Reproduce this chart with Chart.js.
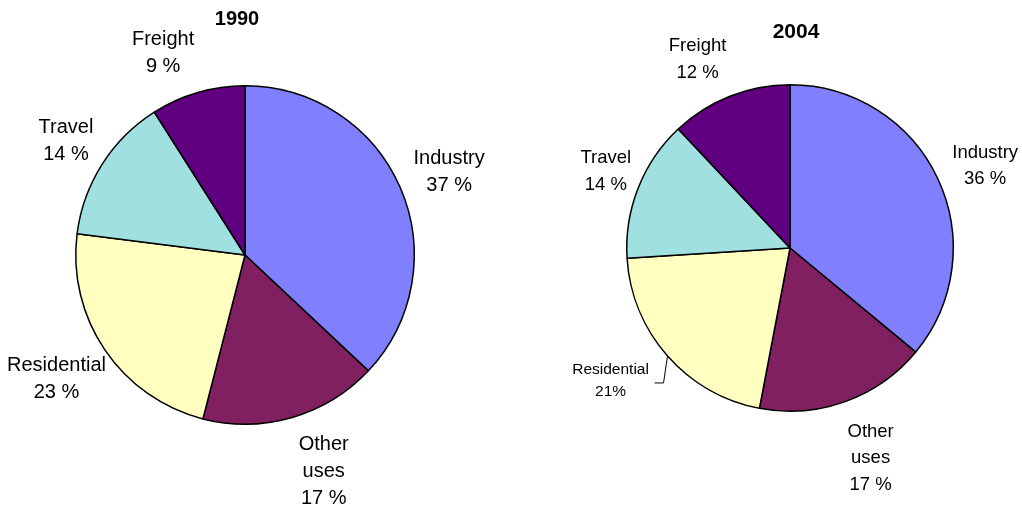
<!DOCTYPE html>
<html>
<head>
<meta charset="utf-8">
<script src="https://cdn.jsdelivr.net/npm/chart.js@4.4.1/dist/chart.umd.min.js"></script>
<style>
  body { margin: 0; background: #fff; }
  .wrap { position: relative; width: 1022px; height: 508px; }
  canvas { position: absolute; top: 0; }
  #pie1990 { left: 0; }
  #pie2004 { left: 511px; }
</style>
</head>
<body>
<div class="wrap">
  <canvas id="pie1990" width="511" height="508"></canvas>
  <canvas id="pie2004" width="511" height="508"></canvas>
</div>
<script>
const sectors = ['Industry', 'Other\nuses', 'Residential', 'Travel', 'Freight']
const share1990 = [37, 17, 23, 14, 9]
const share2004 = [36, 17, 21, 14, 12]
const colors = ['#8080ff', '#802060', '#ffffc0', '#a0e0e0', '#600080']

const FONT = "'Liberation Sans', Arial, sans-serif"

// writes sector name + share next to each slice, at the slice's mid angle
const sliceLabels = {
  id: 'sliceLabels',
  afterDraw(chart, args, opts) {
    const ctx = chart.ctx;
    const meta = chart.getDatasetMeta(0);
    const values = chart.data.datasets[0].data;
    ctx.save();
    ctx.fillStyle = '#000';
    ctx.textAlign = 'center';
    ctx.textBaseline = 'middle';

    // title above the pie
    const a0 = meta.data[0];
    ctx.font = `bold ${opts.titleSize}px ${FONT}`;
    ctx.fillText(opts.title, a0.x + opts.titleDx, a0.y - a0.outerRadius - opts.titleDy);

    meta.data.forEach((arc, i) => {
      const mid = (arc.startAngle + arc.endAngle) / 2;
      if (opts.leader && opts.leader.index === i) {
        // small label pulled off the slice with a leader line
        const ex = arc.x + Math.cos(mid) * arc.outerRadius;
        const ey = arc.y + Math.sin(mid) * arc.outerRadius;
        const bx = ex - 4, by = ey + 27;
        ctx.strokeStyle = '#000';
        ctx.lineWidth = 1;
        ctx.beginPath();
        ctx.moveTo(ex, ey);
        ctx.lineTo(bx, by);
        ctx.lineTo(bx - 9, by);
        ctx.stroke();
        ctx.font = `${opts.leader.size}px ${FONT}`;
        const lines = chart.data.labels[i].split('\n').concat([values[i] + '%']);
        const cx = bx - 53, cy = by - 2;
        lines.forEach((t, k) => {
          ctx.fillText(t, cx, cy + (k - (lines.length - 1) / 2) * opts.leader.lineH);
        });
        return;
      }
      const d = arc.outerRadius + opts.gap[i];
      const cx = arc.x + Math.cos(mid) * d + opts.nudge[i][0];
      const cy = arc.y + Math.sin(mid) * d + opts.nudge[i][1];
      ctx.font = `${opts.size}px ${FONT}`;
      const lines = chart.data.labels[i].split('\n').concat([values[i] + ' %']);
      lines.forEach((t, k) => {
        ctx.fillText(t, cx, cy + (k - (lines.length - 1) / 2) * opts.lineH);
      });
    });
    ctx.restore();
  }
};

function pie(id, values, padding, labelOpts) {
  return new Chart(document.getElementById(id), {
    type: 'pie',
    data: {
      labels: sectors,
      datasets: [{
        data: values,
        backgroundColor: colors,
        borderColor: '#000',
        borderWidth: 1.5
      }]
    },
    options: {
      responsive: false,
      animation: false,
      layout: { padding: padding },
      plugins: {
        legend: { display: false },
        tooltip: { enabled: false },
        sliceLabels: labelOpts
      }
    },
    plugins: [sliceLabels]
  });
}

pie('pie1990', share1990, { left: 75, right: 96, top: 85, bottom: 83 }, {
  title: '1990', titleSize: 20, titleDx: -8, titleDy: 66,
  size: 20, lineH: 27,
  gap: [51, 59, 55, 44, 49],
  nudge: [[2, 4], [15, -3], [-3, -2], [1, 0], [-21, 8]]
});

pie('pie2004', share2004, { left: 115, right: 68, top: 84, bottom: 96 }, {
  title: '2004', titleSize: 21, titleDx: 6, titleDy: 53,
  size: 18.5, lineH: 26.5,
  gap: [48, 60, 55, 36, 47],
  nudge: [[4, 8], [5, 0], [0, 0], [1, -3], [-15, 7]],
  leader: { index: 2, size: 15.5, lineH: 22 }
});
</script>
</body>
</html>
